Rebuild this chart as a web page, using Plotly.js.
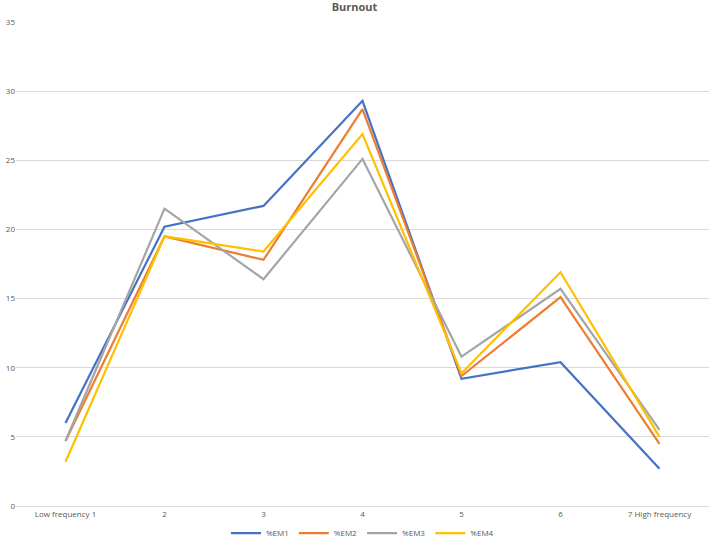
<!DOCTYPE html>
<html>
<head>
<meta charset="utf-8">
<script src="https://cdn.plot.ly/plotly-3.0.1.min.js"></script>
<style>
  html, body { margin: 0; padding: 0; background: #fff; }
  #chart { width: 709px; height: 538px; }
</style>
</head>
<body>
<div id="chart"></div>
<script>
const categories = ['Low frequency 1', '2', '3', '4', '5', '6', '7 High frequency'];
const em1 = [6.0, 20.2, 21.7, 29.3, 9.2, 10.4, 2.7];
const em2 = [4.7, 19.5, 17.8, 28.7, 9.4, 15.1, 4.5];
const em3 = [4.7, 21.5, 16.4, 25.1, 10.8, 15.7, 5.5];
const em4 = [3.2, 19.5, 18.4, 26.9, 9.6, 16.9, 5.0];

const seriesNames = ['%EM1', '%EM2', '%EM3', '%EM4'];
const seriesColors = ['#4472C4', '#ED7D31', '#A5A5A5', '#FFC000'];

const traces = [em1, em2, em3, em4].map((vals, i) => ({
    x: categories,
    y: vals,
    name: seriesNames[i],
    type: 'scatter',
    mode: 'lines',
    line: {color: seriesColors[i], width: 2.2}
}));

const layout = {
    width: 709,
    height: 538,
    paper_bgcolor: '#ffffff',
    plot_bgcolor: '#ffffff',
    font: {family: 'Open Sans, sans-serif', size: 8, color: '#595959'},
    title: {
        text: 'Burnout',
        font: {size: 11, color: '#595959', weight: 'bold'},
        x: 0.5, xanchor: 'center',
        y: 0.987, yref: 'container', yanchor: 'middle'
    },
    margin: {l: 16, r: 0, t: 22, b: 32, autoexpand: false},
    xaxis: {
        type: 'category',
        range: [-0.5, 6.5],
        showgrid: false,
        showline: true,
        linecolor: '#d9d9d9',
        ticks: '',
        zeroline: false,
        tickfont: {size: 8, color: '#595959'}
    },
    yaxis: {
        range: [0, 35],
        dtick: 5,
        showgrid: true,
        gridcolor: '#d9d9d9',
        zeroline: false,
        ticks: '',
        tickfont: {size: 8, color: '#595959'}
    },
    showlegend: true,
    legend: {
        orientation: 'h',
        x: 0.5, xanchor: 'center',
        y: 0.009, yref: 'container', yanchor: 'middle',
        font: {size: 8, color: '#595959'},
        itemwidth: 30
    }
};

Plotly.newPlot('chart', traces, layout, {displayModeBar: false, staticPlot: true});
</script>
</body>
</html>
